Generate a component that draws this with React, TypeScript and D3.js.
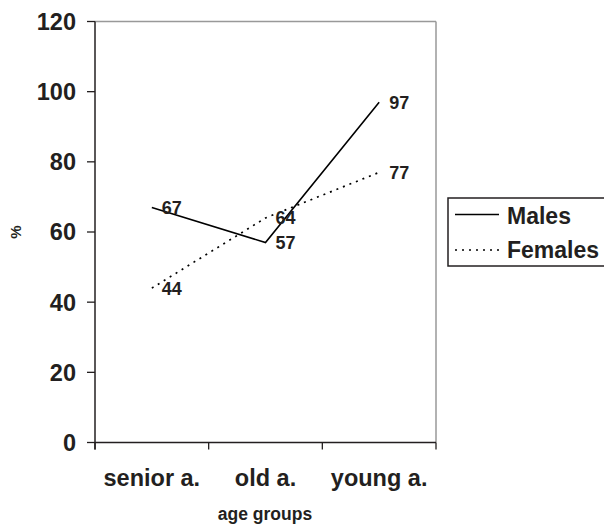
import React from "react";
import * as d3 from "d3";

const categories = ["senior a.", "old a.", "young a."];
const males = [67, 57, 97];
const females = [44, 64, 77];
const yTicks = [0, 20, 40, 60, 80, 100, 120];
const seriesNames = ["Males", "Females"];

const W = 604;
const H = 524;
const left = 95;
const right = 436;
const top = 21.5;
const bottom = 442.5;
const FONT = "'Liberation Sans', Arial, Helvetica, sans-serif";
const INK = "#231f20";

export default function App() {
  const x = d3.scaleBand<string>().domain(categories).range([left, right]);
  const y = d3.scaleLinear().domain([0, 120]).range([bottom, top]);
  const cx = (c: string) => (x(c) ?? 0) + x.bandwidth() / 2;

  const line = d3
    .line<number>()
    .x((_, i) => cx(categories[i]))
    .y((d) => y(d));

  const tickXs = [left, ...categories.map((c) => (x(c) ?? 0) + x.bandwidth())];

  return (
    <svg
      width={W}
      height={H}
      style={{ position: "absolute", left: 0, top: 0, background: "#fff" }}
      fontFamily={FONT}
    >
      <rect x={0} y={0} width={W} height={H} fill="#fff" />
      {/* plot frame top/right (gray) */}
      <line x1={left} x2={right} y1={top} y2={top} stroke="#999" strokeWidth={1.3} />
      <line x1={right} x2={right} y1={top} y2={bottom} stroke="#999" strokeWidth={1.5} />

      {/* y axis */}
      <line x1={left} x2={left} y1={top} y2={bottom + 7} stroke={INK} strokeWidth={1.5} />
      {yTicks.map((t) => (
        <g key={t}>
          <line x1={left - 8} x2={left} y1={y(t)} y2={y(t)} stroke={INK} strokeWidth={1.3} />
          <text
            x={76}
            y={y(t)}
            dy="0.36em"
            textAnchor="end"
            fontSize={23.5}
            fontWeight="bold"
            fill={INK}
          >
            {t}
          </text>
        </g>
      ))}

      {/* x axis */}
      <line x1={left} x2={right} y1={bottom} y2={bottom} stroke={INK} strokeWidth={1.5} />
      {tickXs.map((tx, i) => (
        <line key={i} x1={tx} x2={tx} y1={bottom} y2={bottom + 7} stroke={INK} strokeWidth={1.3} />
      ))}
      {categories.map((c) => (
        <text
          key={c}
          x={cx(c)}
          y={486}
          textAnchor="middle"
          fontSize={23.5}
          fontWeight="bold"
          fill={INK}
        >
          {c}
        </text>
      ))}

      {/* axis titles */}
      <text x={265} y={520} textAnchor="middle" fontSize={17.5} fontWeight="bold" fill={INK}>
        age groups
      </text>
      <text
        transform={`translate(21,232) rotate(-90)`}
        textAnchor="middle"
        fontSize={15}
        fontWeight="bold"
        fill={INK}
      >
        %
      </text>

      {/* series */}
      <path d={line(males) ?? ""} fill="none" stroke="#000" strokeWidth={1.6} />
      <path
        d={line(females) ?? ""}
        fill="none"
        stroke="#000"
        strokeWidth={1.7}
        strokeDasharray="2,5"
      />

      {/* data labels */}
      {males.map((v, i) => (
        <text
          key={"m" + i}
          x={cx(categories[i]) + 10}
          y={y(v)}
          dy="0.36em"
          fontSize={18}
          fontWeight="bold"
          fill={INK}
        >
          {v}
        </text>
      ))}
      {females.map((v, i) => (
        <text
          key={"f" + i}
          x={cx(categories[i]) + 10}
          y={y(v)}
          dy="0.36em"
          fontSize={18}
          fontWeight="bold"
          fill={INK}
        >
          {v}
        </text>
      ))}

      {/* legend */}
      <rect x={448} y={198} width={170} height={68} fill="none" stroke={INK} strokeWidth={1.5} />
      <line x1={455} x2={499} y1={214.5} y2={214.5} stroke="#000" strokeWidth={1.5} />
      <line
        x1={455}
        x2={499}
        y1={250}
        y2={250}
        stroke="#000"
        strokeWidth={1.7}
        strokeDasharray="2,5"
      />
      <text x={507} y={224} fontSize={23} fontWeight="bold" fill={INK}>
        {seriesNames[0]}
      </text>
      <text x={507} y={258} fontSize={23} fontWeight="bold" fill={INK}>
        {seriesNames[1]}
      </text>
    </svg>
  );
}
